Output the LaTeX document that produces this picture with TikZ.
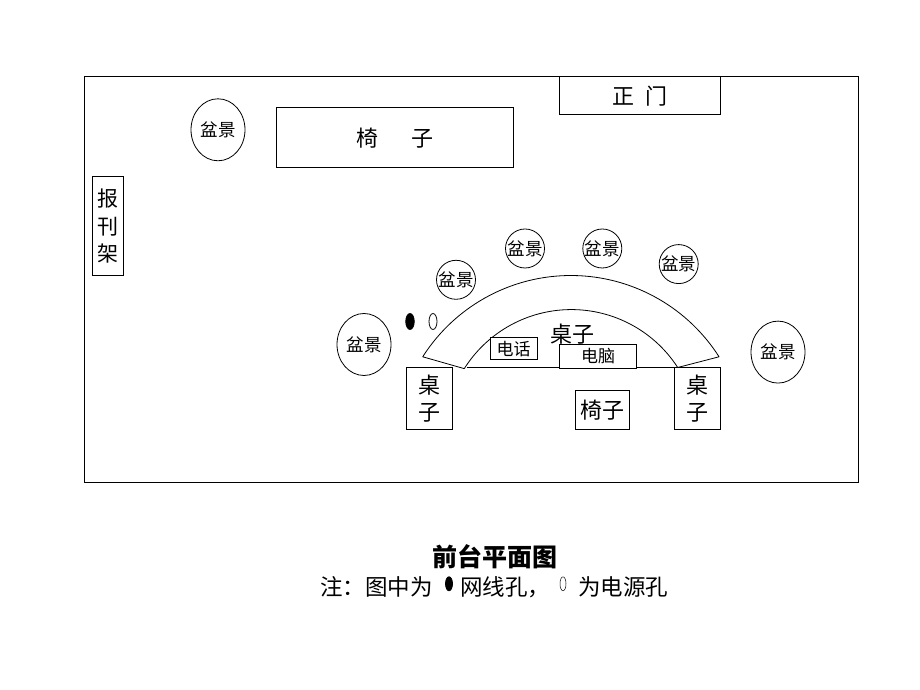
\documentclass[tikz,border=0pt]{standalone}
\usepackage{fontspec}
\setmainfont{Noto Sans CJK SC}
\usetikzlibrary{shapes.geometric}
\tikzset{
  x=1pt,y=1pt,
  line/.style={draw=black,line width=0.8pt},
  boxn/.style={line,rectangle,inner sep=0pt,outer sep=0pt,minimum width=#1},
  boxh/.style={minimum height=#1},
  pot/.style={line,ellipse,inner xsep=-5pt,inner ysep=-2pt,outer sep=0pt,font=\fontsize{17.5}{17.5}\selectfont},
  potsmall/.style={pot,minimum width=39pt,minimum height=39pt},
  potbig/.style={pot,minimum width=54pt,minimum height=62pt},
  hole/.style={line,ellipse,inner sep=0pt,outer sep=0pt,minimum width=#1},
  holeh/.style={minimum height=#1},
  big/.style={font=\fontsize{22}{27}\selectfont,align=center},
  mid/.style={font=\fontsize{17}{17}\selectfont},
  note/.style={font=\fontsize{22.5}{22.5}\selectfont,inner sep=0pt}
}
\begin{document}
\begin{tikzpicture}
\useasboundingbox (0,-0.2) rectangle (920,689.8);
\fill[white] (0,-0.2) rectangle (920,689.8);
% y here is 690 minus the image row
\node[boxn=774pt,boxh=406pt] (room) at (471,410) {};
\node[boxn=161pt,boxh=38pt,big] (door) at (639.5,594) {正\hspace{0.5em}门};
\node[boxn=237pt,boxh=60pt,big] (bench) at (394.5,552) {椅\hspace{1.5em}子};
\node[boxn=31pt,boxh=99pt,big,font=\fontsize{21}{27.5}\selectfont] (rack) at (107.5,463.5) {报\\刊\\架};
\node[potbig] (p0) at (218,560) {盆景};
\node[potbig] (p1) at (364,345.3) {盆景};
\node[potbig] (p2) at (778,337.7) {盆景};
\node[potsmall] (p3) at (456,410) {盆景};
\node[potsmall] (p4) at (525,441.3) {盆景};
\node[potsmall] (p5) at (602.3,441.3) {盆景};
\node[potsmall] (p6) at (678.7,425.7) {盆景};
\node[hole=8.5pt,holeh=16pt,fill=black] (net) at (410,368.3) {};
\node[hole=8pt,holeh=16pt] (power) at (433,368.3) {};
% curved desk
\coordinate (ol) at (422.7,333);
\coordinate (il) at (464.3,320.7);
\coordinate (ir) at (677.7,322.3);
\coordinate (or) at (719.3,332.7);
\draw[line,line join=round] (ol) arc[start angle=147.5,end angle=32.5,radius=175.7pt] -- (ir)
  arc[start angle=32.85,end angle=147.76,radius=126.6pt] -- cycle;
\node[boxn=46pt,boxh=61.5pt,big] (dl) at (429.5,291.25) {桌\\子};
\node[boxn=46pt,boxh=61.5pt,big] (dr) at (697.5,291.25) {桌\\子};
\coordinate (bl) at (467,322);
\draw[line] (bl) -- (dr.north west);
\node[boxn=46.5pt,boxh=22.5pt,mid,fill=white] (phone) at (513.7,341.2) {电话};
\node[boxn=76.5pt,boxh=23.5pt,mid,fill=white] (pc) at (598,333.5) {电脑};
\node[big,inner sep=0pt] (desk) at (572,356) {桌子};
\node[boxn=54pt,boxh=39pt,big] (chair) at (602,279.5) {椅子};
% caption
\node[font=\fontsize{25}{25}\selectfont\bfseries,inner sep=0pt] (title) at (495,133) {前台平面图};
\node[note,anchor=west] (n1) at (320,103) {注：图中为};
\node[hole=7pt,holeh=14pt,fill=black] (k1) at (449,106) {};
\node[note,anchor=west] (n2) at (460,103) {网线孔，};
\node[hole=6pt,holeh=14pt,line width=0.5pt] (k2) at (563,106) {};
\node[note,anchor=west] (n3) at (578,103) {为电源孔};
\end{tikzpicture}
\end{document}
